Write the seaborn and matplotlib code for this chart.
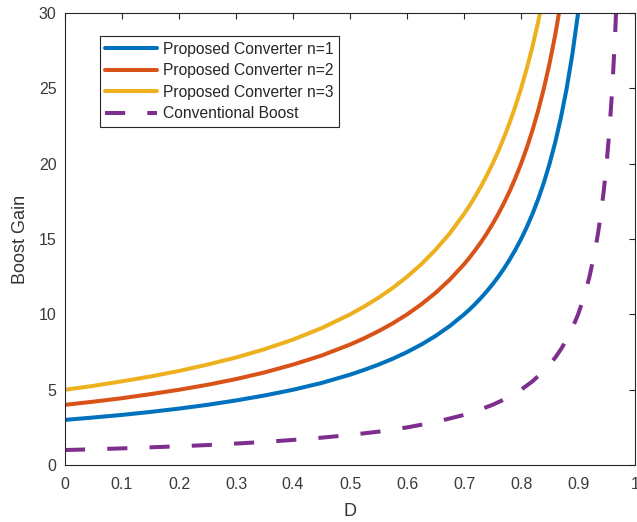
import matplotlib
matplotlib.use("Agg")
import matplotlib.pyplot as plt
import seaborn as sns
import pandas as pd

# Duty cycle samples and boost gains for each converter
d_n1 = [0.00, 0.05, 0.10, 0.15, 0.20, 0.25, 0.30, 0.35, 0.40, 0.45, 0.50, 0.525, 0.55, 0.575,
        0.60, 0.625, 0.65, 0.675, 0.70, 0.71, 0.72, 0.73, 0.74, 0.75, 0.76, 0.77, 0.78, 0.79,
        0.80, 0.81, 0.82, 0.83, 0.84, 0.85, 0.86, 0.87, 0.88, 0.89, 0.90, 0.91]
gain_n1 = [3.00, 3.16, 3.33, 3.53, 3.75, 4.00, 4.29, 4.62, 5.00, 5.45, 6.00, 6.32, 6.67, 7.06,
           7.50, 8.00, 8.57, 9.23, 10.00, 10.34, 10.71, 11.11, 11.54, 12.00, 12.50, 13.04,
           13.64, 14.29, 15.00, 15.79, 16.67, 17.65, 18.75, 20.00, 21.43, 23.08, 25.00, 27.27,
           30.00, 33.33]

d_n2 = [0.00, 0.05, 0.10, 0.15, 0.20, 0.25, 0.30, 0.35, 0.40, 0.45, 0.50, 0.525, 0.55, 0.575,
        0.60, 0.625, 0.65, 0.675, 0.70, 0.71, 0.72, 0.73, 0.74, 0.75, 0.76, 0.77, 0.78, 0.79,
        0.80, 0.81, 0.82, 0.83, 0.84, 0.85, 0.86, 0.87, 0.88]
gain_n2 = [4.00, 4.21, 4.44, 4.71, 5.00, 5.33, 5.71, 6.15, 6.67, 7.27, 8.00, 8.42, 8.89, 9.41,
           10.00, 10.67, 11.43, 12.31, 13.33, 13.79, 14.29, 14.81, 15.38, 16.00, 16.67, 17.39,
           18.18, 19.05, 20.00, 21.05, 22.22, 23.53, 25.00, 26.67, 28.57, 30.77, 33.33]

d_n3 = [0.00, 0.05, 0.10, 0.15, 0.20, 0.25, 0.30, 0.35, 0.40, 0.45, 0.50, 0.525, 0.55, 0.575,
        0.60, 0.625, 0.65, 0.675, 0.70, 0.71, 0.72, 0.73, 0.74, 0.75, 0.76, 0.77, 0.78, 0.79,
        0.80, 0.81, 0.82, 0.83, 0.84]
gain_n3 = [5.00, 5.26, 5.56, 5.88, 6.25, 6.67, 7.14, 7.69, 8.33, 9.09, 10.00, 10.53, 11.11,
           11.76, 12.50, 13.33, 14.29, 15.38, 16.67, 17.24, 17.86, 18.52, 19.23, 20.00, 20.83,
           21.74, 22.73, 23.81, 25.00, 26.32, 27.78, 29.41, 31.25]

d_conv = [0.00, 0.05, 0.10, 0.15, 0.20, 0.25, 0.30, 0.35, 0.40, 0.45, 0.50, 0.55, 0.60, 0.65,
          0.70, 0.725, 0.75, 0.775, 0.80, 0.82, 0.84, 0.85, 0.86, 0.87, 0.88, 0.89, 0.90,
          0.91, 0.92, 0.93, 0.935, 0.94, 0.945, 0.95, 0.955, 0.96, 0.965, 0.97]
gain_conv = [1.00, 1.05, 1.11, 1.18, 1.25, 1.33, 1.43, 1.54, 1.67, 1.82, 2.00, 2.22, 2.50, 2.86,
             3.33, 3.64, 4.00, 4.44, 5.00, 5.56, 6.25, 6.67, 7.14, 7.69, 8.33, 9.09, 10.00,
             11.11, 12.50, 14.29, 15.38, 16.67, 18.18, 20.00, 22.22, 25.00, 28.57, 33.33]

labels = ["Proposed Converter n=1", "Proposed Converter n=2",
          "Proposed Converter n=3", "Conventional Boost"]
x_ticks = [0, 0.1, 0.2, 0.3, 0.4, 0.5, 0.6, 0.7, 0.8, 0.9, 1]
y_ticks = [0, 5, 10, 15, 20, 25, 30]

colors = ["#0072BD", "#D95319", "#EDB120", "#7E2F8E"]

sns.set_theme(style="white")
plt.rcParams["font.family"] = ["Liberation Sans", "DejaVu Sans"]

fig = plt.figure(figsize=(6.37, 5.22), dpi=100)
ax = fig.add_axes([0.102, 0.109, 0.895, 0.866])

series = [(d_n1, gain_n1), (d_n2, gain_n2), (d_n3, gain_n3), (d_conv, gain_conv)]
for (d, g), lab, col in zip(series, labels, colors):
    df = pd.DataFrame({"D": d, "Gain": g})
    line_kw = dict(color=col, linewidth=2.9, label=lab)
    if lab == "Conventional Boost":
        line_kw["dashes"] = (5, 5.5)
    sns.lineplot(data=df, x="D", y="Gain", ax=ax, sort=True, **line_kw)

ax.set_xlim(0, 1)
ax.set_ylim(0, 30)
ax.set_xticks(x_ticks)
ax.set_xticklabels([f"{t:g}" for t in x_ticks])
ax.set_yticks(y_ticks)
ax.tick_params(direction="in", length=4, width=0.8, top=True, right=True,
               labelsize=11.5, colors="#262626", labelcolor="#3a3a3a")
ax.tick_params(axis="x", pad=8.5)
ax.tick_params(axis="y", pad=6)
for s in ax.spines.values():
    s.set_color("#262626")
    s.set_linewidth(0.8)

ax.set_xlabel("D", fontsize=13, color="#333333", labelpad=8)
ax.set_ylabel("Boost Gain", fontsize=13, color="#333333", labelpad=7)

leg = ax.legend(loc="upper left", bbox_to_anchor=(0.061, 0.949), borderaxespad=0,
                fontsize=11.25, frameon=True, fancybox=False, framealpha=1,
                handlelength=3.3, handletextpad=0.4, labelspacing=0.42,
                borderpad=0.35)
leg.get_frame().set_edgecolor("#262626")
leg.get_frame().set_linewidth(0.8)
for t in leg.get_texts():
    t.set_color("#262626")

fig.savefig("out.png", dpi=100)
